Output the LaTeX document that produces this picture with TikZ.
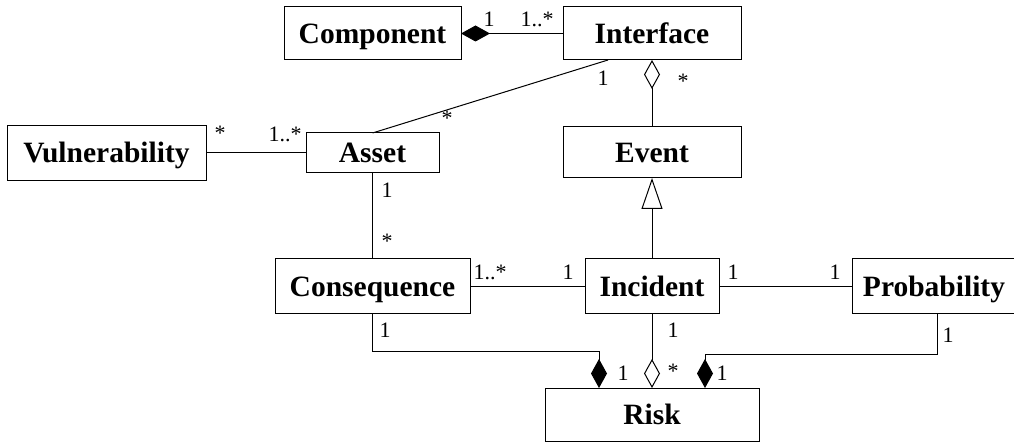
\documentclass[tikz,border=0pt]{standalone}
\usepackage{fontspec}
\setmainfont{Liberation Serif}
\usetikzlibrary{arrows.meta}
\tikzset{
  compo/.tip={Diamond[length=29pt,width=16pt,fill=black]},
  aggr/.tip={Diamond[length=29pt,width=16pt,open,fill=white]},
  gen/.tip={Triangle[length=31pt,width=21pt,open,fill=white]}}
\begin{document}
\begin{tikzpicture}[x=1pt,y=-1pt,
  umlclass/.style={draw,line width=1pt,inner sep=0pt,outer sep=0pt,
    text height=19.5pt,text depth=0pt,
    font=\bfseries\fontsize{29.5}{31}\selectfont},
  assoc/.style={line width=1pt},
  mult/.style={inner sep=0pt,text height=14.5pt,text depth=0pt,
    font=\fontsize{22}{24}\selectfont}]
\useasboundingbox (0,0) rectangle (1014,443);

% classes
\node[umlclass,minimum width=177pt,minimum height=53pt] (comp)  at (372.5,33.5) {Component};
\node[umlclass,minimum width=178pt,minimum height=53pt] (iface) at (652,33.5)   {Interface};
\node[umlclass,minimum width=199pt,minimum height=55pt] (vuln)  at (106.5,153)  {Vulnerability};
\node[umlclass,minimum width=133pt,minimum height=40pt] (asset) at (372.5,153)  {Asset};
\node[umlclass,minimum width=178pt,minimum height=51pt] (event) at (652,152.5)  {Event};
\node[umlclass,minimum width=195pt,minimum height=55pt] (cons)  at (372.5,286.5){Consequence};
\node[umlclass,minimum width=134pt,minimum height=55pt] (inc)   at (652,286.5)  {Incident};
\node[umlclass,minimum width=164pt,minimum height=55pt] (prob)  at (934,286.5)  {Probability};
\node[umlclass,minimum width=214pt,minimum height=53pt] (risk)  at (652,414.5)  {Risk};

% associations
\draw[assoc,{compo}-] (comp.east) -- (iface.west);
\draw[assoc] ([xshift=-44pt]iface.south) -- (asset.north);
\draw[assoc,{aggr}-] (iface.south) -- (event.north);
\draw[assoc] (vuln.east) -- (asset.west);
\draw[assoc] (asset.south) -- (cons.north);
\draw[assoc] (cons.east) -- (inc.west);
\draw[assoc] (inc.east) -- (prob.west);
\draw[assoc,-{gen}] (inc.north) -- (event.south);
\draw[assoc,-{compo}] (cons.south) |- ([xshift=-53pt,yshift=37pt]risk.north) -- ([xshift=-53pt]risk.north);
\draw[assoc,-{aggr}] (inc.south) -- (risk.north);
\draw[assoc,-{compo}] ([xshift=3pt]prob.south) |- ([xshift=53pt,yshift=34pt]risk.north) -- ([xshift=53pt]risk.north);

% multiplicities
\node[mult] (m1)  at (489,19.5) {1};
\node[mult] (m2)  at (537,19.5) {1..*};
\node[mult] (m3)  at (603,78)   {1};
\node[mult] (m4)  at (683,81)   {*};
\node[mult] (m5)  at (447,118)  {*};
\node[mult] (m6)  at (220,133)  {*};
\node[mult] (m7)  at (285,134)  {1..*};
\node[mult] (m8)  at (387,190)  {1};
\node[mult] (m9)  at (387,241)  {*};
\node[mult] (m10) at (490,272)  {1..*};
\node[mult] (m11) at (568,272)  {1};
\node[mult] (m12) at (733,272)  {1};
\node[mult] (m13) at (835,272)  {1};
\node[mult] (m14) at (385,330)  {1};
\node[mult] (m15) at (673,330)  {1};
\node[mult] (m16) at (948,335)  {1};
\node[mult] (m17) at (623,373)  {1};
\node[mult] (m18) at (673,371)  {*};
\node[mult] (m19) at (722,373)  {1};
\end{tikzpicture}
\end{document}
